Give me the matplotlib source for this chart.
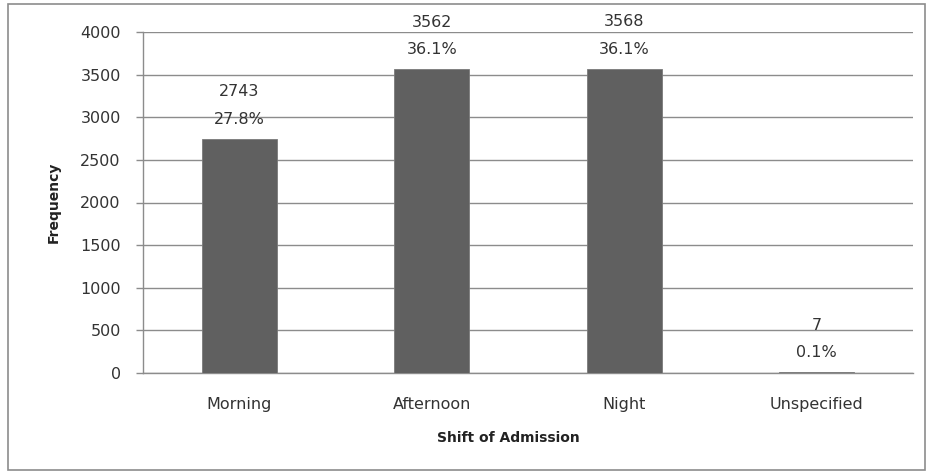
import matplotlib.pyplot as plt
from matplotlib.patches import Rectangle

shifts = ["Morning", "Afternoon", "Night", "Unspecified"]
counts = [2743, 3562, 3568, 7]
percents = ["27.8%", "36.1%", "36.1%", "0.1%"]
yticks = [0, 500, 1000, 1500, 2000, 2500, 3000, 3500, 4000]

plt.rcParams['font.family'] = ['DejaVu Sans']

fig = plt.figure(figsize=(9.27, 4.74), dpi=100)
ax = fig.add_axes([143 / 927, 1 - 373 / 474, (913 - 143) / 927, (373 - 32) / 474])

# outer chart border
fig.patches.append(Rectangle((8 / 927, 4 / 474), 917 / 927, 466 / 474,
                             transform=fig.transFigure, fill=False,
                             edgecolor='#8c8c8c', linewidth=1.2))

x = range(len(shifts))
ax.bar(x, counts, width=0.39, color='#606060', edgecolor='#7a7a7a', linewidth=0.6, zorder=3)

for i, (c, p) in enumerate(zip(counts, percents)):
    ax.annotate(p, (i, c), xytext=(0, 14), textcoords='offset points',
                ha='center', va='center', fontsize=11.5, color='#333333')
    ax.annotate(str(c), (i, c), xytext=(0, 34), textcoords='offset points',
                ha='center', va='center', fontsize=11.5, color='#333333')

ax.set_ylim(0, 4000)
ax.set_xlim(-0.5, 3.5)
ax.set_yticks(yticks)
ax.set_xticks(list(x))
ax.set_xticklabels(shifts)
ax.yaxis.grid(True, color='#8c8c8c', linewidth=1.0, zorder=0)
ax.tick_params(axis='both', labelsize=11.5, colors='#333333')
ax.tick_params(axis='x', length=0, pad=17)
ax.tick_params(axis='y', length=5, width=1.0, color='#8c8c8c', pad=11)

for s in ['top', 'right']:
    ax.spines[s].set_visible(False)
for s in ['left', 'bottom']:
    ax.spines[s].set_color('#8c8c8c')
    ax.spines[s].set_linewidth(1.0)

ax.set_xlabel("Shift of Admission", fontsize=10, fontweight='bold', color='#222222')
ax.xaxis.set_label_coords(0.474, -0.170)
ax.set_ylabel("Frequency", fontsize=10, fontweight='bold', color='#222222')
ax.yaxis.set_label_coords((61 - 143) / 770, 0.5)

fig.savefig("out.png", dpi=100)
